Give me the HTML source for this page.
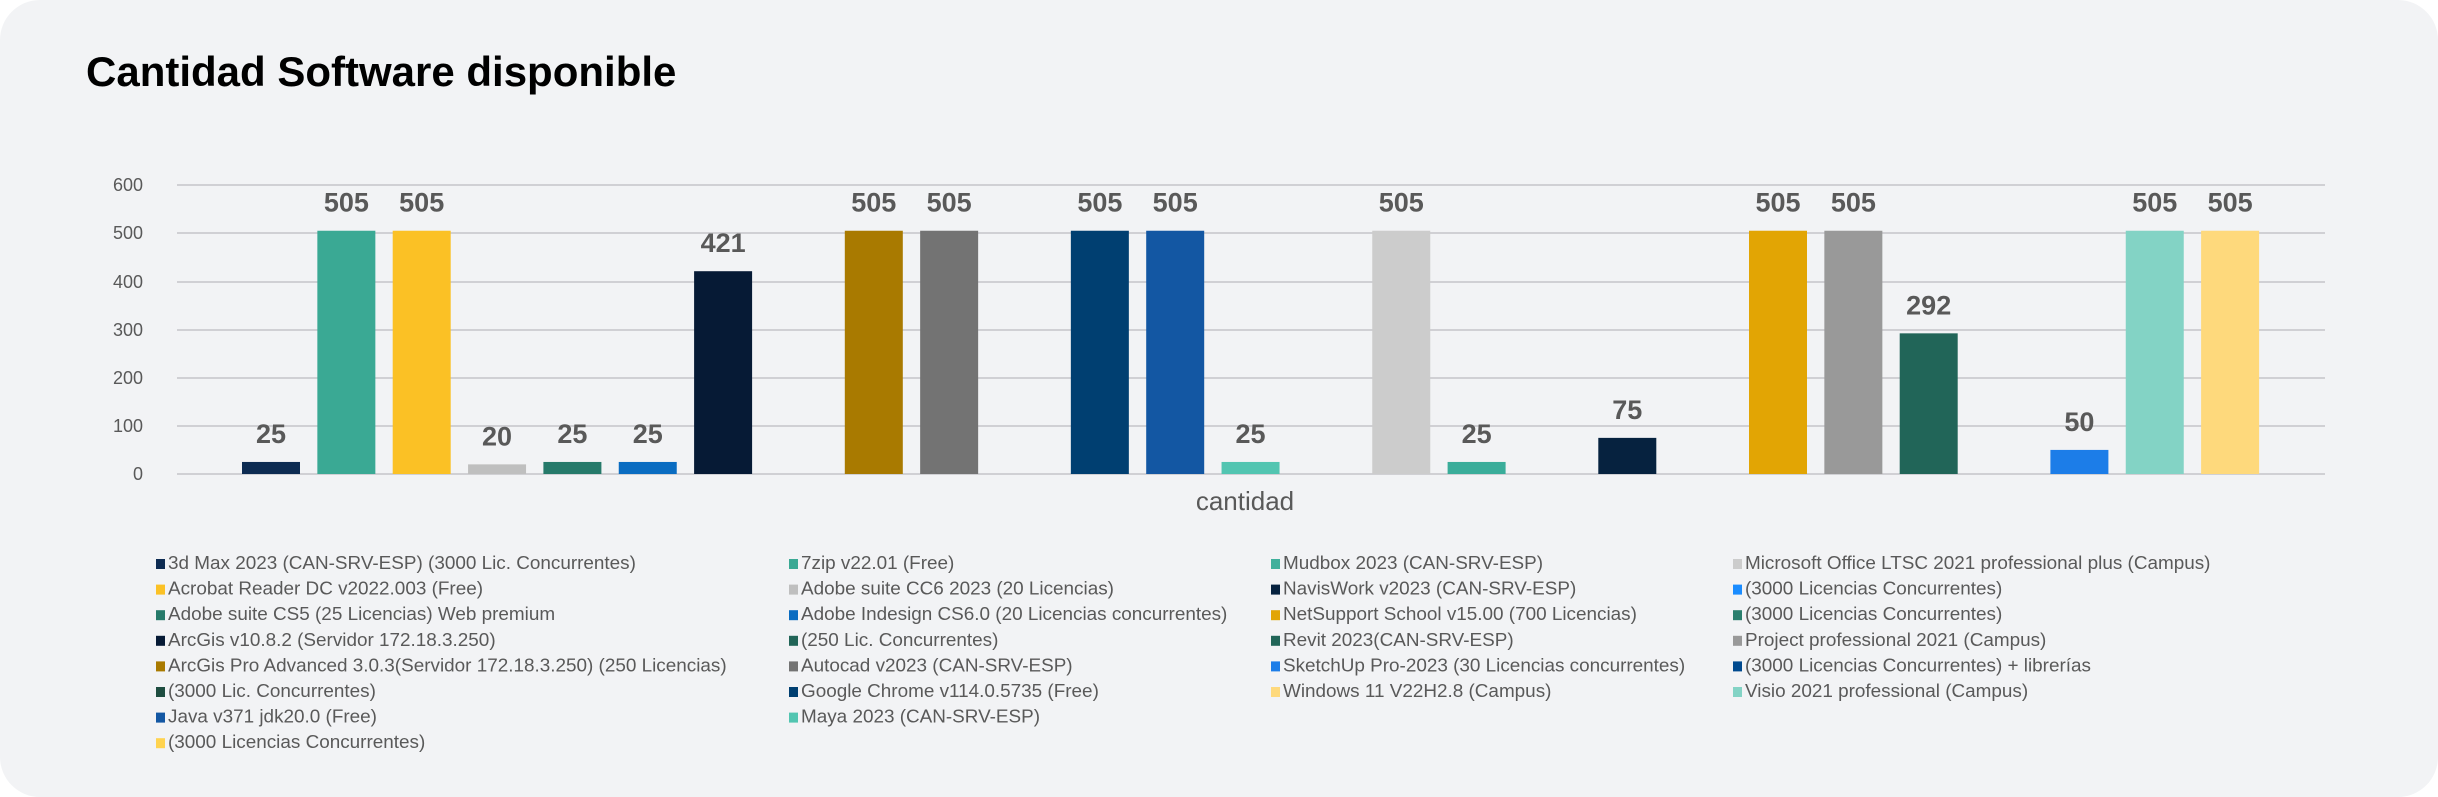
<!DOCTYPE html>
<html><head><meta charset="utf-8"><style>
html,body{margin:0;padding:0;background:#fff;}
.card{position:absolute;left:0;top:0;width:2438px;height:797px;background:#f2f3f5;border-radius:40px;overflow:hidden;}
svg{position:absolute;left:0;top:0;}
text{font-family:"Liberation Sans",Arial,sans-serif;}
</style></head><body>
<div class="card">
<svg width="2438" height="797" viewBox="0 0 2438 797">
<text x="86" y="86" font-size="42" font-weight="bold" fill="#000">Cantidad Software disponible</text>
<g stroke="#d0d0d4" stroke-width="2">
<line x1="177" x2="2325" y1="185" y2="185"/>
<line x1="177" x2="2325" y1="233" y2="233"/>
<line x1="177" x2="2325" y1="282" y2="282"/>
<line x1="177" x2="2325" y1="330" y2="330"/>
<line x1="177" x2="2325" y1="378" y2="378"/>
<line x1="177" x2="2325" y1="426" y2="426"/>
<line x1="177" x2="2325" y1="474" y2="474"/>
</g>
<g font-size="18" fill="#595959" text-anchor="end">
<text x="143" y="191">600</text><text x="143" y="239">500</text><text x="143" y="288">400</text>
<text x="143" y="336">300</text><text x="143" y="384">200</text><text x="143" y="432">100</text><text x="143" y="480">0</text>
</g>
<g id="bars"></g>
<g id="labels" font-size="27" font-weight="bold" fill="#595959" text-anchor="middle"></g>
<text x="1245" y="510" font-size="26" fill="#595959" text-anchor="middle">cantidad</text>
<g id="legend" font-size="18.9" fill="#595959"></g>
</svg>
</div>
<script>
var ns="http://www.w3.org/2000/svg";
var data=[[1,25,"#0d2b52"],[2,505,"#3aa994"],[3,505,"#fbc125"],[4,20,"#bfbfbf"],[5,25,"#267a6a"],[6,25,"#0a6cc1"],[7,421,"#061a35"],
[9,505,"#a97a00"],[10,505,"#737373"],[12,505,"#003f71"],[13,505,"#1357a3"],[14,25,"#52c5b1"],[16,505,"#cccccc"],[17,25,"#3aad9a"],
[19,75,"#06223f"],[21,505,"#e2a504"],[22,505,"#999999"],[23,292,"#216558"],[25,50,"#1c7de8"],[26,505,"#83d3c5"],[27,505,"#fed97c"]];
var bars=document.getElementById("bars"),labels=document.getElementById("labels");
data.forEach(function(d){
 var cx=271+75.35*(d[0]-1),h=d[1]*0.4817,top=474-h;
 var r=document.createElementNS(ns,"rect");
 r.setAttribute("x",cx-29);r.setAttribute("y",top);r.setAttribute("width",58);r.setAttribute("height",h);r.setAttribute("fill",d[2]);
 bars.appendChild(r);
 var t=document.createElementNS(ns,"text");
 t.setAttribute("x",cx);t.setAttribute("y",top-19);t.textContent=d[1];labels.appendChild(t);
});
var leg=[
["3d Max 2023 (CAN-SRV-ESP) (3000 Lic. Concurrentes)","#0d2b52"],["7zip v22.01 (Free)","#3aa994"],["Mudbox 2023 (CAN-SRV-ESP)","#40b09c"],["Microsoft Office LTSC 2021 professional plus (Campus)","#cccccc"],
["Acrobat Reader DC v2022.003 (Free)","#fbc125"],["Adobe suite CC6 2023 (20 Licencias)","#bfbfbf"],["NavisWork v2023 (CAN-SRV-ESP)","#06223f"],["(3000 Licencias Concurrentes)","#1a8cff"],
["Adobe suite CS5 (25 Licencias) Web premium","#267a6a"],["Adobe Indesign CS6.0 (20 Licencias concurrentes)","#0a6cc1"],["NetSupport School v15.00 (700 Licencias)","#e2a504"],["(3000 Licencias Concurrentes)","#2a7f6e"],
["ArcGis  v10.8.2 (Servidor 172.18.3.250)","#061a35"],["(250 Lic. Concurrentes)","#216558"],["Revit 2023(CAN-SRV-ESP)","#216558"],["Project professional 2021 (Campus)","#999999"],
["ArcGis Pro Advanced  3.0.3(Servidor 172.18.3.250) (250 Licencias)","#a97a00"],["Autocad  v2023 (CAN-SRV-ESP)","#737373"],["SketchUp Pro-2023 (30 Licencias concurrentes)","#1c7de8"],["(3000 Licencias Concurrentes) + librerías","#004a8f"],
["(3000 Lic. Concurrentes)","#1e4d40"],["Google Chrome v114.0.5735 (Free)","#003f71"],["Windows 11 V22H2.8 (Campus)","#fed97c"],["Visio 2021 professional (Campus)","#83d3c5"],
["Java v371 jdk20.0 (Free)","#1357a3"],["Maya 2023 (CAN-SRV-ESP)","#52c5b1"],null,null,
["(3000 Licencias Concurrentes)","#ffd34f"]];
var cols=[156,789,1271,1733],lg=document.getElementById("legend");
leg.forEach(function(l,i){
 if(!l)return;
 var c=i%4,r=Math.floor(i/4),y=563+r*25.6,x=cols[c];
 var s=document.createElementNS(ns,"rect");
 s.setAttribute("x",x);s.setAttribute("y",y-4);s.setAttribute("width",9);s.setAttribute("height",10);s.setAttribute("fill",l[1]);lg.appendChild(s);
 var t=document.createElementNS(ns,"text");
 t.setAttribute("x",x+12);t.setAttribute("y",y+6);t.setAttribute("xml:space","preserve");t.textContent=l[0];lg.appendChild(t);
});
</script>
</body></html>
